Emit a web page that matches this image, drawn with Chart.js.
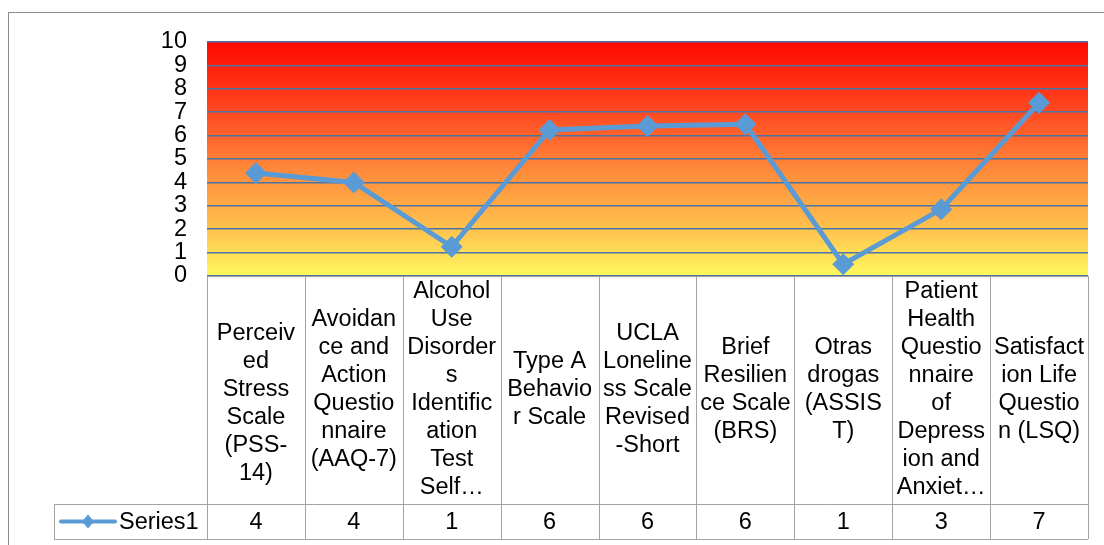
<!DOCTYPE html>
<html>
<head>
<meta charset="utf-8">
<script src="https://cdn.jsdelivr.net/npm/chart.js@4"></script>
<style>
  html, body { margin: 0; padding: 0; background: #ffffff; }
</style>
</head>
<body>
<canvas id="myChart" width="1104" height="545"></canvas>
<script>
// Etichette delle categorie, già spezzate come nella tabella dati di Excel
const categoryLines = [
  ["", "Perceiv", "ed", "Stress", "Scale", "(PSS-", "14)"],
  ["Avoidan", "ce and", "Action", "Questio", "nnaire", "(AAQ-7)"],
  ["Alcohol", "Use", "Disorder", "s", "Identific", "ation", "Test", "Self…"],
  ["Type A", "Behavio", "r Scale"],
  ["UCLA", "Loneline", "ss Scale", "Revised", "-Short"],
  ["Brief", "Resilien", "ce Scale", "(BRS)"],
  ["Otras", "drogas", "(ASSIS", "T)"],
  ["Patient", "Health", "Questio", "nnaire", "of", "Depress", "ion and", "Anxiet…"],
  ["Satisfact", "ion Life", "Questio", "n (LSQ)"]
];

// Valori della serie
const seriesName = "Series1";
const series1 = [4.4, 4.0, 1.25, 6.24, 6.41, 6.48, 0.5, 2.85, 7.4];

// Valori mostrati nella riga della tabella (arrotondati come in Excel)
const tableValues = ["4", "4", "1", "6", "6", "6", "1", "3", "7"];

// Asse Y
const yMin = 0;
const yMax = 10;
const yStep = 1;

const FONT = "'Liberation Sans', Arial, sans-serif";
const FONT_SIZE = 23.5;
const LINE_COLOR = "#5b9bd5";
const TABLE_COLOR = "#a3a3a3";

// Plugin: sfondo sfumato dell'area del grafico e tabella dati sotto
const excelPlugin = {
  id: "excelTable",
  beforeDraw(chart) {
    const ctx = chart.ctx;
    const a = chart.chartArea;
    ctx.save();
    // cornice esterna
    ctx.strokeStyle = "#8c8c8c";
    ctx.lineWidth = 1;
    ctx.strokeRect(8.5, 12.5, 1300, 800);
    // sfumatura rosso -> giallo
    const g = ctx.createLinearGradient(0, a.top, 0, a.bottom);
    g.addColorStop(0, "#ff0800");
    g.addColorStop(0.3, "#ff4a22");
    g.addColorStop(0.55, "#ff8a3a");
    g.addColorStop(0.8, "#ffc24e");
    g.addColorStop(1, "#fff85e");
    ctx.fillStyle = g;
    ctx.fillRect(a.left, a.top, a.right - a.left, a.bottom - a.top);
    ctx.restore();
  },
  afterDraw(chart) {
    const ctx = chart.ctx;
    const a = chart.chartArea;
    const n = categoryLines.length;
    const colW = (a.right - a.left) / n;
    const rowTop = a.bottom + 228;
    const rowBottom = rowTop + 35;
    const labelLeft = 54;

    ctx.save();
    ctx.strokeStyle = TABLE_COLOR;
    ctx.lineWidth = 1;
    ctx.beginPath();
    // linee orizzontali
    ctx.moveTo(a.left, a.bottom + 0.5);
    ctx.lineTo(a.right, a.bottom + 0.5);
    ctx.moveTo(labelLeft, rowTop + 0.5);
    ctx.lineTo(a.right, rowTop + 0.5);
    ctx.moveTo(labelLeft, rowBottom + 0.5);
    ctx.lineTo(a.right, rowBottom + 0.5);
    // linee verticali
    for (let i = 0; i <= n; i++) {
      const x = Math.round(a.left + i * colW) + 0.5;
      ctx.moveTo(x, a.bottom);
      ctx.lineTo(x, rowBottom);
    }
    ctx.moveTo(labelLeft + 0.5, rowTop);
    ctx.lineTo(labelLeft + 0.5, rowBottom);
    ctx.stroke();

    // testo delle categorie
    ctx.fillStyle = "#000000";
    ctx.font = FONT_SIZE + "px " + FONT;
    ctx.textAlign = "center";
    ctx.textBaseline = "middle";
    const lineH = 28;
    const midY = (a.bottom + rowTop) / 2;
    for (let i = 0; i < n; i++) {
      const cx = chart.scales.x.getPixelForValue(i);
      const lines = categoryLines[i];
      const startY = midY - (lines.length - 1) * lineH / 2;
      for (let j = 0; j < lines.length; j++) {
        ctx.fillText(lines[j], cx, startY + j * lineH);
      }
      // valore nella riga della serie
      ctx.fillText(tableValues[i], cx, (rowTop + rowBottom) / 2 + 1);
    }

    // legenda nella tabella
    const ly = (rowTop + rowBottom) / 2;
    ctx.strokeStyle = LINE_COLOR;
    ctx.lineWidth = 4;
    ctx.lineCap = "round";
    ctx.beginPath();
    ctx.moveTo(61, ly);
    ctx.lineTo(115, ly);
    ctx.stroke();
    ctx.fillStyle = LINE_COLOR;
    ctx.beginPath();
    ctx.moveTo(88, ly - 7);
    ctx.lineTo(94, ly);
    ctx.lineTo(88, ly + 7);
    ctx.lineTo(82, ly);
    ctx.closePath();
    ctx.fill();
    ctx.fillStyle = "#000000";
    ctx.textAlign = "left";
    ctx.fillText(seriesName, 119, ly + 1);
    ctx.restore();
  }
};

const ctx = document.getElementById("myChart");
const myChart = new Chart(ctx, {
  type: "line",
  data: {
    labels: categoryLines,
    datasets: [
      {
        label: seriesName,
        data: series1,
        borderColor: LINE_COLOR,
        backgroundColor: LINE_COLOR,
        borderWidth: 5,
        pointStyle: "rectRot",
        pointRadius: 11,
        pointBorderWidth: 0,
        pointBackgroundColor: LINE_COLOR,
        tension: 0,
        fill: false
      }
    ]
  },
  options: {
    responsive: false,
    animation: false,
    devicePixelRatio: 1,
    layout: {
      padding: { left: 0, top: 42, right: 16, bottom: 269 }
    },
    plugins: {
      legend: { display: false },
      tooltip: { enabled: false }
    },
    scales: {
      x: {
        type: "category",
        offset: true,
        display: false
      },
      y: {
        min: yMin,
        max: yMax,
        afterFit(scale) {
          scale.width = 207;
        },
        ticks: {
          stepSize: yStep,
          autoSkip: false,
          color: "#000000",
          padding: 20,
          font: { family: FONT, size: FONT_SIZE, lineHeight: 1 }
        },
        grid: {
          color: "#4a74a4",
          lineWidth: 1.5,
          drawTicks: false
        },
        border: { display: false }
      }
    }
  },
  plugins: [excelPlugin]
});
</script>
</body>
</html>
